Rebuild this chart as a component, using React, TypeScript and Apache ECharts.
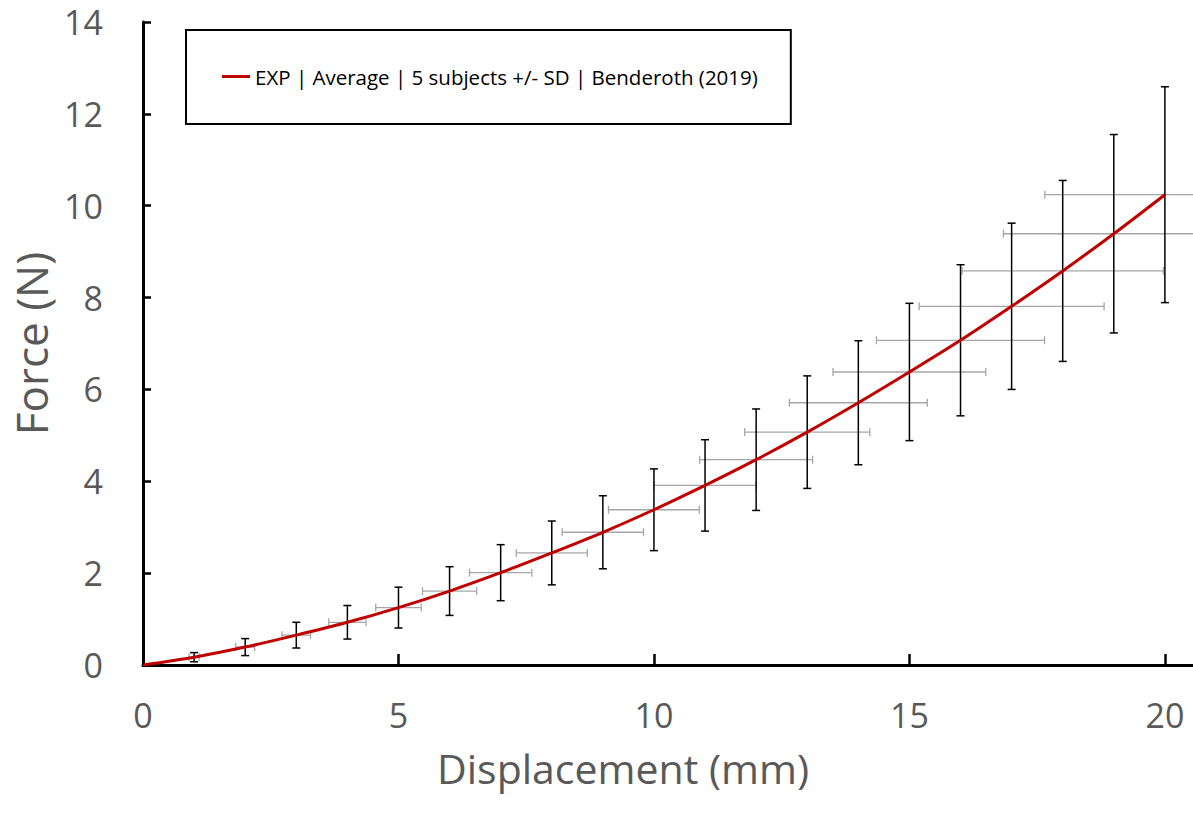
import React, { useEffect, useRef } from "react";
import * as echarts from "echarts";

const displacement = [0, 1, 2, 3, 4, 5, 6, 7, 8, 9, 10, 11, 12, 13, 14, 15, 16, 17, 18, 19, 20];
const meanForce = [0, 0.17, 0.39, 0.65, 0.93, 1.25, 1.61, 2.01, 2.44, 2.89, 3.38, 3.91, 4.47, 5.07, 5.71, 6.38, 7.07, 7.81, 8.58, 9.39, 10.24];
const sd = [0, 0.1, 0.185, 0.28, 0.365, 0.445, 0.53, 0.61, 0.695, 0.795, 0.89, 0.995, 1.105, 1.225, 1.35, 1.495, 1.645, 1.81, 1.97, 2.16, 2.35];
const xTicks = [0, 5, 10, 15, 20];
const yTicks = [0, 2, 4, 6, 8, 10, 12, 14];
const seriesName = "EXP | Average | 5 subjects +/- SD | Benderoth (2019)";

export default function App() {
  const ref = useRef<HTMLDivElement>(null);
  useEffect(() => {
    const chart = echarts.init(ref.current!, null, { renderer: "svg" });
    const lineData = displacement.map((x, i) => [x, meanForce[i]]);
    const vErr = displacement
      .map((x, i) => [x, meanForce[i] - sd[i], meanForce[i] + sd[i]])
      .filter((r, i) => sd[i] > 0);
    const hErr = displacement
      .map((x, i) => [x - sd[i], x + sd[i], meanForce[i]])
      .filter((r, i) => sd[i] > 0);
    const labelColor = "#595959";
    chart.setOption({
      animation: false,
      backgroundColor: "#ffffff",
      grid: { left: 143, right: 0, top: 22, bottom: 153 },
      legend: {
        data: [seriesName],
        left: 186,
        top: 30,
        orient: "horizontal",
        padding: [36, 33, 37, 36],
        borderColor: "#000",
        borderWidth: 2,
        icon: "rect",
        itemWidth: 28,
        itemHeight: 3,
        textStyle: { fontFamily: "Open Sans", fontSize: 20.5, color: "#000" },
      },
      xAxis: {
        type: "value",
        min: 0,
        max: 20.55,
        interval: 5,
        name: "Displacement (mm)",
        nameLocation: "middle",
        nameGap: 82,
        nameTextStyle: { fontFamily: "Open Sans", fontSize: 41, color: labelColor, padding: [0, 90, 0, 0] },
        axisLine: { show: true, lineStyle: { color: "#000", width: 3 } },
        axisTick: { show: true, inside: true, length: 11, lineStyle: { color: "#000", width: 2.5 }, customValues: xTicks },
        axisLabel: {
          customValues: xTicks,
          margin: 33,
          fontFamily: "Open Sans",
          fontSize: 34,
          color: labelColor,
          formatter: (v: number) => (xTicks.indexOf(v) >= 0 ? String(v) : ""),
        },
        splitLine: { show: false },
      },
      yAxis: {
        type: "value",
        min: 0,
        max: 14,
        interval: 2,
        name: "Force (N)",
        nameLocation: "middle",
        nameGap: 90,
        nameTextStyle: { fontFamily: "Open Sans", fontSize: 44, color: labelColor },
        axisLine: { show: true, lineStyle: { color: "#000", width: 3 } },
        axisTick: { show: true, inside: true, length: 8, lineStyle: { color: "#000", width: 2.5 } },
        axisLabel: {
          margin: 40,
          fontFamily: "Open Sans",
          fontSize: 34,
          color: labelColor,
          formatter: (v: number) => (yTicks.indexOf(v) >= 0 ? String(v) : ""),
        },
        splitLine: { show: false },
      },
      series: [
        {
          type: "custom",
          name: "dispSD",
          z: 2,
          clip: false,
          data: hErr,
          encode: { x: [0, 1], y: 2 },
          renderItem: (params: any, api: any) => {
            const a = api.coord([api.value(0), api.value(2)]);
            const b = api.coord([api.value(1), api.value(2)]);
            const st = { stroke: "#a6a6a6", lineWidth: 1.3 };
            const c = 4;
            return {
              type: "group",
              children: [
                { type: "line", shape: { x1: a[0], y1: a[1], x2: b[0], y2: b[1] }, style: st },
                { type: "line", shape: { x1: a[0], y1: a[1] - c, x2: a[0], y2: a[1] + c }, style: st },
                { type: "line", shape: { x1: b[0], y1: b[1] - c, x2: b[0], y2: b[1] + c }, style: st },
              ],
            };
          },
        },
        {
          type: "custom",
          name: "forceSD",
          z: 3,
          clip: false,
          data: vErr,
          encode: { x: 0, y: [1, 2] },
          renderItem: (params: any, api: any) => {
            const a = api.coord([api.value(0), api.value(2)]);
            const b = api.coord([api.value(0), api.value(1)]);
            const st = { stroke: "#000", lineWidth: 1.5 };
            const c = 4;
            return {
              type: "group",
              children: [
                { type: "line", shape: { x1: a[0], y1: a[1], x2: b[0], y2: b[1] }, style: st },
                { type: "line", shape: { x1: a[0] - c, y1: a[1], x2: a[0] + c, y2: a[1] }, style: st },
                { type: "line", shape: { x1: b[0] - c, y1: b[1], x2: b[0] + c, y2: b[1] }, style: st },
              ],
            };
          },
        },
        {
          type: "line",
          name: seriesName,
          z: 4,
          data: lineData,
          smooth: 0.3,
          showSymbol: false,
          symbol: "none",
          color: "#c00000",
          lineStyle: { color: "#c00000", width: 3 },
        },
      ],
    });
    return () => chart.dispose();
  }, []);
  return <div ref={ref} style={{ position: "absolute", left: 0, top: 0, width: 1193, height: 818 }} />;
}
